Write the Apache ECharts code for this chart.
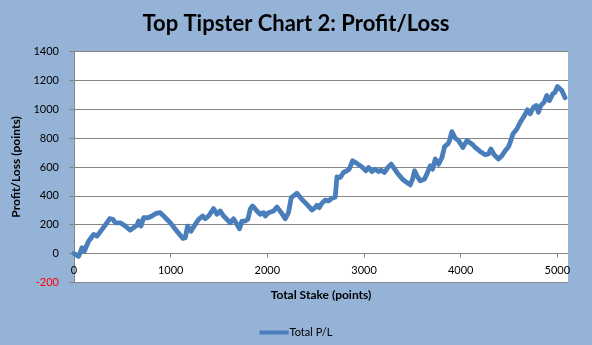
<!DOCTYPE html>
<html>
<head>
<meta charset="utf-8">
<script src="https://cdn.jsdelivr.net/npm/echarts@6/dist/echarts.min.js"></script>
<style>
html,body{margin:0;padding:0;background:#95b3d7;}
#chart{width:592px;height:345px;}
</style>
</head>
<body>
<div id="chart"></div>
<script>
var titleText = "Top Tipster Chart 2: Profit/Loss";
var xName = "Total Stake (points)";
var yName = "Profit/Loss (points)";
var seriesName = "Total P/L";
var xTicks = [0, 1000, 2000, 3000, 4000, 5000];
var yTicks = [-200, 0, 200, 400, 600, 800, 1000, 1200, 1400];

var stake = [0,48,83,106,151,203,238,290,341,368,
403,427,479,530,582,616,651,668,693,720,
771,806,851,892,927,996,1065,1127,1151,1175,
1210,1254,1289,1330,1358,1392,1444,1479,1513,1547,
1616,1650,1685,1712,1737,1771,1799,1823,1847,1892,
1926,1961,1978,2012,2064,2099,2144,2185,2219,2247,
2271,2306,2350,2409,2461,2495,2513,2537,2564,2599,
2633,2668,2702,2720,2754,2788,2823,2847,2881,2926,
2978,3019,3047,3081,3116,3150,3178,3212,3247,3281,
3340,3398,3443,3478,3502,3523,3547,3581,3626,3650,
3685,3709,3737,3771,3806,3833,3868,3882,3909,3943,
3978,4023,4064,4116,4150,4201,4253,4287,4312,4346,
4391,4426,4460,4495,4512,4540,4581,4615,4649,4691,
4719,4753,4781,4804,4829,4863,4891,4918,4953,4977,
5001,5046,5080];

var profitLoss = [0,-20,40,15,85,132,120,167,213,241,
237,213,213,190,162,179,195,225,190,248,
248,260,279,283,260,213,155,105,109,190,
155,202,237,260,241,260,311,272,295,260,
213,241,202,171,225,225,237,307,330,295,
272,283,260,283,295,323,283,241,283,388,
400,418,381,341,302,318,335,318,349,370,
365,383,392,532,527,562,574,585,643,625,
601,574,597,569,585,569,578,562,597,620,
562,516,492,476,516,574,539,504,516,551,
608,585,655,620,666,741,760,778,845,800,
783,736,783,760,736,708,685,690,725,685,
655,678,713,741,771,829,864,910,945,997,
969,1015,1027,980,1027,1050,1096,1061,1108,1119,
1159,1131,1080];

var xMax = 5110;

var data = stake.map(function (s, i) { return [s, profitLoss[i]]; });
var fontFam = "Lato, 'Open Sans', sans-serif";
var gridColor = "#868686";
var gridTop = 51.7, gridBottomPx = 282.3;
var zeroOffset = -((0 - yTicks[0]) / (yTicks[yTicks.length - 1] - yTicks[0]) * (gridBottomPx - gridTop));

var chart = echarts.init(document.getElementById('chart'), null, {renderer: 'canvas'});
chart.setOption({
  animation: false,
  backgroundColor: '#95b3d7',
  textStyle: {fontFamily: fontFam},
  title: {
    text: titleText,
    left: 'center',
    top: 8,
    textStyle: {fontFamily: fontFam, fontSize: 22, fontWeight: 'bold', color: '#000'}
  },
  legend: {
    data: [{name: seriesName, icon: 'rect'}],
    left: 'center',
    top: 322,
    itemWidth: 29,
    itemHeight: 4,
    itemGap: 2,
    textStyle: {fontFamily: fontFam, fontSize: 11, color: '#000', padding: [0, 0, 0, -4]}
  },
  grid: {left: 74, right: 24, top: gridTop, bottom: 345 - gridBottomPx, containLabel: false, show: true, backgroundColor: '#ffffff', borderWidth: 0},
  xAxis: {
    type: 'value',
    min: 0,
    max: xMax,
    interval: 1000,
    position: 'bottom',
    offset: zeroOffset,
    name: xName,
    nameLocation: 'middle',
    nameGap: 36,
    nameTextStyle: {fontFamily: fontFam, fontSize: 12, fontWeight: 'bold', color: '#000'},
    axisLine: {show: true, onZero: false, lineStyle: {color: gridColor, width: 1}},
    axisTick: {show: true, length: 4, customValues: xTicks, lineStyle: {color: gridColor}},
    axisLabel: {customValues: xTicks, margin: 11, fontSize: 11, color: '#000', fontFamily: fontFam,
      formatter: function (v) { return String(v); }},
    splitLine: {show: false}
  },
  yAxis: {
    type: 'value',
    min: yTicks[0],
    max: yTicks[yTicks.length - 1],
    interval: 200,
    name: yName,
    nameLocation: 'middle',
    nameGap: 42,
    nameTextStyle: {fontFamily: fontFam, fontSize: 12, fontWeight: 'bold', color: '#000'},
    axisLine: {show: true, lineStyle: {color: gridColor, width: 1}},
    axisTick: {show: true, length: 5, lineStyle: {color: gridColor}},
    axisLabel: {
      margin: 15, fontSize: 11, fontFamily: fontFam,
      formatter: function (v) { return String(v); },
      color: function (v) { return Number(v) < 0 ? '#ff0000' : '#000'; }
    },
    splitLine: {show: true, lineStyle: {color: gridColor, width: 1}}
  },
  series: [{
    name: seriesName,
    type: 'line',
    data: data,
    showSymbol: false,
    symbol: 'none',
    lineStyle: {color: '#4a7ebb', width: 4.8, cap: 'round', join: 'round'},
    itemStyle: {color: '#4a7ebb'}
  }]
});
</script>
</body>
</html>
